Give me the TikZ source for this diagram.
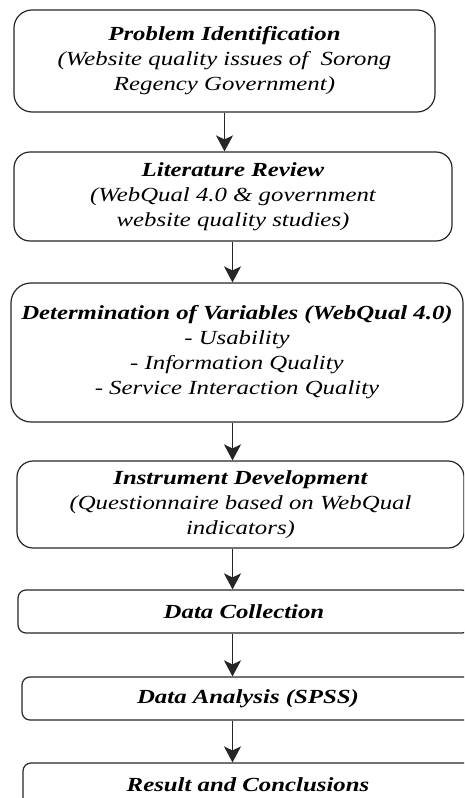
\documentclass[tikz,border=0pt]{standalone}
\usepackage{fontspec}
\setmainfont{Liberation Serif}[FakeStretch=1.24]
\usetikzlibrary{arrows.meta}
\begin{document}
\begin{tikzpicture}[x=1pt,y=-1pt,
  box/.style={draw=black!85, line width=1.2pt, rounded corners=#1, align=center, inner sep=0pt,
    font=\fontsize{20}{25}\selectfont\itshape},
  box/.default=16pt,
  arr/.style={draw=black!85, line width=1.2pt, -{Stealth[length=16pt,width=17pt,inset=4pt]}}]
\useasboundingbox (0,0) rectangle (464,798);
\clip (0,0) rectangle (464,798);
\coordinate (ax) at (232.5,0);
\node[box=18pt, minimum width=421pt, minimum height=102pt] (b1) at (224.5,61)
  {\textbf{Problem Identification}\\(Website quality issues of~ Sorong\\Regency Government)};
\node[box=16pt, minimum width=438pt, minimum height=89pt] (b2) at (233,196.5)
  {\textbf{Literature Review}\\(WebQual 4.0 \& government\\website quality studies)};
\node[box=20pt, minimum width=452pt, minimum height=139pt] (b3) at (237,352.5)
  {\textbf{Determination of Variables (WebQual 4.0)}\\- Usability\\- Information Quality\\- Service Interaction Quality};
\node[box=16pt, minimum width=447pt, minimum height=87pt] (b4) at (240.5,504.5)
  {\textbf{Instrument Development}\\(Questionnaire based on WebQual\\indicators)};
\node[box=8pt, minimum width=452pt, minimum height=43pt] (b5) at (244,611.5)
  {\textbf{Data Collection}};
\node[box=8pt, minimum width=452pt, minimum height=43pt] (b6) at (248,698.5)
  {\textbf{Data Analysis (SPSS)}};
\node[box=8pt, minimum width=450pt, minimum height=43pt] (b7) at (248,784.5)
  {\textbf{Result and Conclusions}};
\draw[arr] (b1.south) -- (b2.north -| b1.south);
\draw[arr] (b2.south -| ax) -- (b3.north -| ax);
\draw[arr] (b3.south -| ax) -- (b4.north -| ax);
\draw[arr] (b4.south -| ax) -- (b5.north -| ax);
\draw[arr] (b5.south -| ax) -- (b6.north -| ax);
\draw[arr] (b6.south -| ax) -- (b7.north -| ax);
\end{tikzpicture}
\end{document}
